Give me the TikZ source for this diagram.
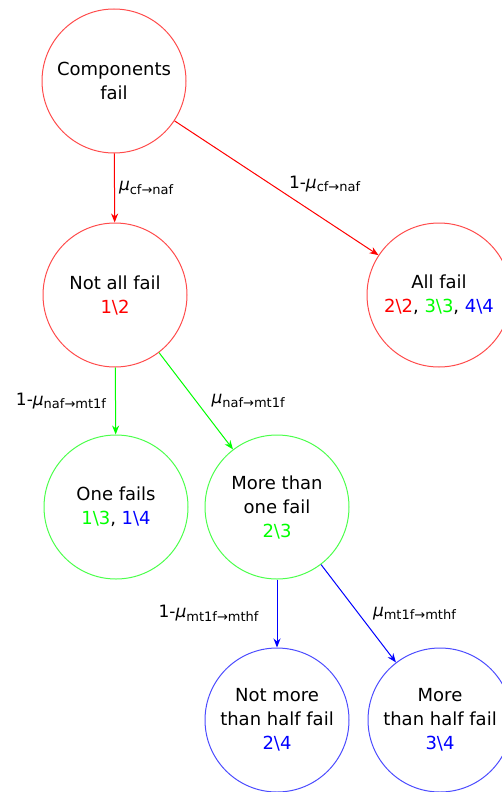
\documentclass[tikz,border=0pt]{standalone}
\usepackage{fontspec}
\setmainfont{DejaVu Sans}
\usepackage{xcolor}
\usetikzlibrary{positioning, arrows.meta}

\newcommand{\mrate}[1]{{\itshape μ}\raisebox{-3.5pt}{\fontsize{13}{13}\selectfont #1}}
\newcommand{\kofn}[3]{\textcolor{#1}{#2\textbackslash #3}}

\begin{document}
\begin{tikzpicture}[
  x=1pt, y=1pt,
  font=\fontsize{18}{24}\selectfont,
  >={Stealth[length=9pt,width=7pt]},
  state/.style={circle, draw, line width=1pt, minimum size=144pt,
    inner sep=0pt, align=center},
  redstate/.style  ={state, draw=red!70},
  greenstate/.style={state, draw=green!70},
  bluestate/.style ={state, draw=blue!70},
  lbl/.style={font=\fontsize{17}{20}\selectfont, inner sep=0pt, text=black},
  redarr/.style  ={->, red, line width=1pt},
  greenarr/.style={->, green, line width=1pt},
  bluearr/.style ={->, blue, line width=1pt},
]
\useasboundingbox (0,0) rectangle (502,-792);

\node[redstate] (cf) at (114,-81) {Components\\fail};
\node[redstate] (naf) at (115,-295) {Not all fail\\\kofn{red}{1}{2}};
\node[redstate] (af) at (439,-295)
  {All fail\\\kofn{red}{2}{2}, \kofn{green}{3}{3}, \kofn{blue}{4}{4}};

\node[greenstate] (one) at (116,-507)
  {One fails\\\kofn{green}{1}{3}, \kofn{blue}{1}{4}};
\node[greenstate] (mt1) at (277,-507) {More than\\one fail\\\kofn{green}{2}{3}};

\node[bluestate] (nmthf) at (277,-720) {Not more\\than half fail\\\kofn{blue}{2}{4}};
\node[bluestate] (mthf) at (440,-720) {More\\than half fail\\\kofn{blue}{3}{4}};

\draw[redarr] (cf) -- node[lbl, right=4pt] {\mrate{cf→naf}} (naf);
\draw[redarr] (cf) -- node[lbl, anchor=west, xshift=12pt, yshift=4pt]
  {1-\mrate{cf→naf}} (af);
\draw[greenarr] (naf) -- node[lbl, left=9pt] {1-\mrate{naf→mt1f}} (one);
\draw[greenarr] (naf) -- node[lbl, right=15pt] {\mrate{naf→mt1f}} (mt1);
\draw[bluearr] (mt1) -- node[lbl, left=18pt] {1-\mrate{mt1f→mthf}} (nmthf);
\draw[bluearr] (mt1) -- node[lbl, right=14pt] {\mrate{mt1f→mthf}} (mthf);

\end{tikzpicture}
\end{document}
